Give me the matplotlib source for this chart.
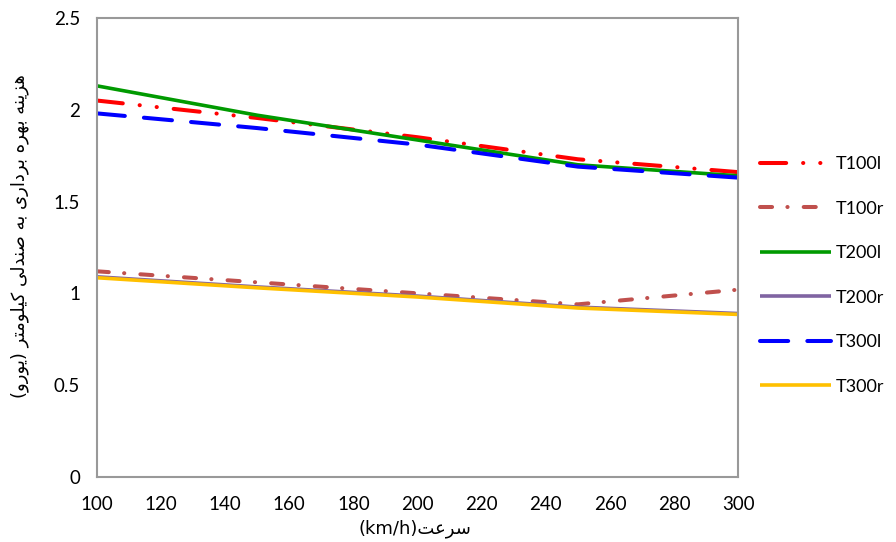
import matplotlib
matplotlib.use("Agg")
import matplotlib.pyplot as plt

# سرعت (km/h) و هزینه هر صندلی-کیلومتر برای هر قطار
speed = [100, 150, 200, 250, 300]
series_names = ["T100l", "T100r", "T200l", "T200r", "T300l", "T300r"]
t100l = [2.05, 1.955, 1.85, 1.73, 1.66]
t100r = [1.12, 1.06, 1.00, 0.94, 1.02]
t200l = [2.13, 1.97, 1.835, 1.70, 1.64]
t200r = [1.09, 1.035, 0.985, 0.925, 0.89]
t300l = [1.98, 1.90, 1.81, 1.69, 1.63]
t300r = [1.085, 1.03, 0.98, 0.92, 0.885]

x_ticks = list(range(100, 301, 20))
y_ticks = [0, 0.5, 1, 1.5, 2, 2.5]
y_tick_labels = ["0", "0.5", "1", "1.5", "2", "2.5"]

# شکل‌دهی ساده حروف فارسی (matplotlib اتصال حروف را انجام نمی‌دهد)
FORMS = {
    "ا": ("\uFE8D", "\uFE8E", None, None),
    "ب": ("\uFE8F", "\uFE90", "\uFE91", "\uFE92"),
    "ت": ("\uFE95", "\uFE96", "\uFE97", "\uFE98"),
    "د": ("\uFEA9", "\uFEAA", None, None),
    "ر": ("\uFEAD", "\uFEAE", None, None),
    "ز": ("\uFEAF", "\uFEB0", None, None),
    "س": ("\uFEB1", "\uFEB2", "\uFEB3", "\uFEB4"),
    "ص": ("\uFEB9", "\uFEBA", "\uFEBB", "\uFEBC"),
    "ع": ("\uFEC9", "\uFECA", "\uFECB", "\uFECC"),
    "ک": ("\uFED9", "\uFEDA", "\uFEDB", "\uFEDC"),
    "ل": ("\uFEDD", "\uFEDE", "\uFEDF", "\uFEE0"),
    "م": ("\uFEE1", "\uFEE2", "\uFEE3", "\uFEE4"),
    "ن": ("\uFEE5", "\uFEE6", "\uFEE7", "\uFEE8"),
    "ه": ("\uFEE9", "\uFEEA", "\uFEEB", "\uFEEC"),
    "و": ("\uFEED", "\uFEEE", None, None),
    "ی": ("\uFEEF", "\uFEF0", "\uFEF3", "\uFEF4"),
}
MIRROR = {"(": ")", ")": "("}


def fa(text):
    out = []
    for i, c in enumerate(text):
        if c not in FORMS:
            out.append(c)
            continue
        prev = text[i - 1] if i > 0 else ""
        nxt = text[i + 1] if i + 1 < len(text) else ""
        jp = prev in FORMS and FORMS[prev][2] is not None
        jn = nxt in FORMS and FORMS[c][2] is not None
        iso, fin, ini, med = FORMS[c]
        if jp and jn:
            out.append(med)
        elif jp:
            out.append(fin)
        elif jn:
            out.append(ini)
        else:
            out.append(iso)
    return "".join(MIRROR.get(c, c) for c in reversed(out))


plt.rcParams["font.family"] = ["Lato", "DejaVu Sans"]

fig = plt.figure(figsize=(8.96, 5.42), dpi=100)
ax = fig.add_axes([0.108, 0.12, 0.716, 0.847])

styles = [
    dict(color="#FF0000", lw=2.9, dashes=(6.5, 4.2, 0.05, 4.2, 0.05, 4.2)),
    dict(color="#C0504D", lw=2.9, dashes=(3.0, 3.8, 0.05, 4.0)),
    dict(color="#009A00", lw=2.6),
    dict(color="#8064A2", lw=2.6),
    dict(color="#0000FF", lw=2.9, dashes=(7.0, 4.75)),
    dict(color="#FFC000", lw=2.6),
]
values = [t100l, t100r, t200l, t200r, t300l, t300r]
for name, vals, st in zip(series_names, values, styles):
    ax.plot(speed, vals, label=name, dash_capstyle="round",
            solid_capstyle="butt", **st)

ax.set_xlim(100, 300)
ax.set_ylim(0, 2.5)
ax.set_xticks(x_ticks)
ax.set_yticks(y_ticks)
ax.set_yticklabels(y_tick_labels)
ax.tick_params(length=0, labelsize=13.5, colors="#000000", pad=12)
ax.tick_params(axis="x", pad=14)
for sp in ax.spines.values():
    sp.set_color("#999999")
    sp.set_linewidth(1.5)

fig.text(0.463, 0.024, "(km/h)" + fa("سرعت"), ha="center", va="center",
         fontsize=13, family=["DejaVu Sans"])
fig.text(0.022, 0.565, fa("هزینه بهره برداری به صندلی کیلومتر (یورو)"),
         rotation=90, ha="center", va="center", fontsize=13,
         family=["DejaVu Sans"])

fig.legend(loc="center left", bbox_to_anchor=(0.848, 0.492), frameon=False,
           fontsize=13, handlelength=3.93, handletextpad=0.3,
           labelspacing=1.58, borderpad=0, borderaxespad=0)

fig.savefig("out.png", dpi=100)
